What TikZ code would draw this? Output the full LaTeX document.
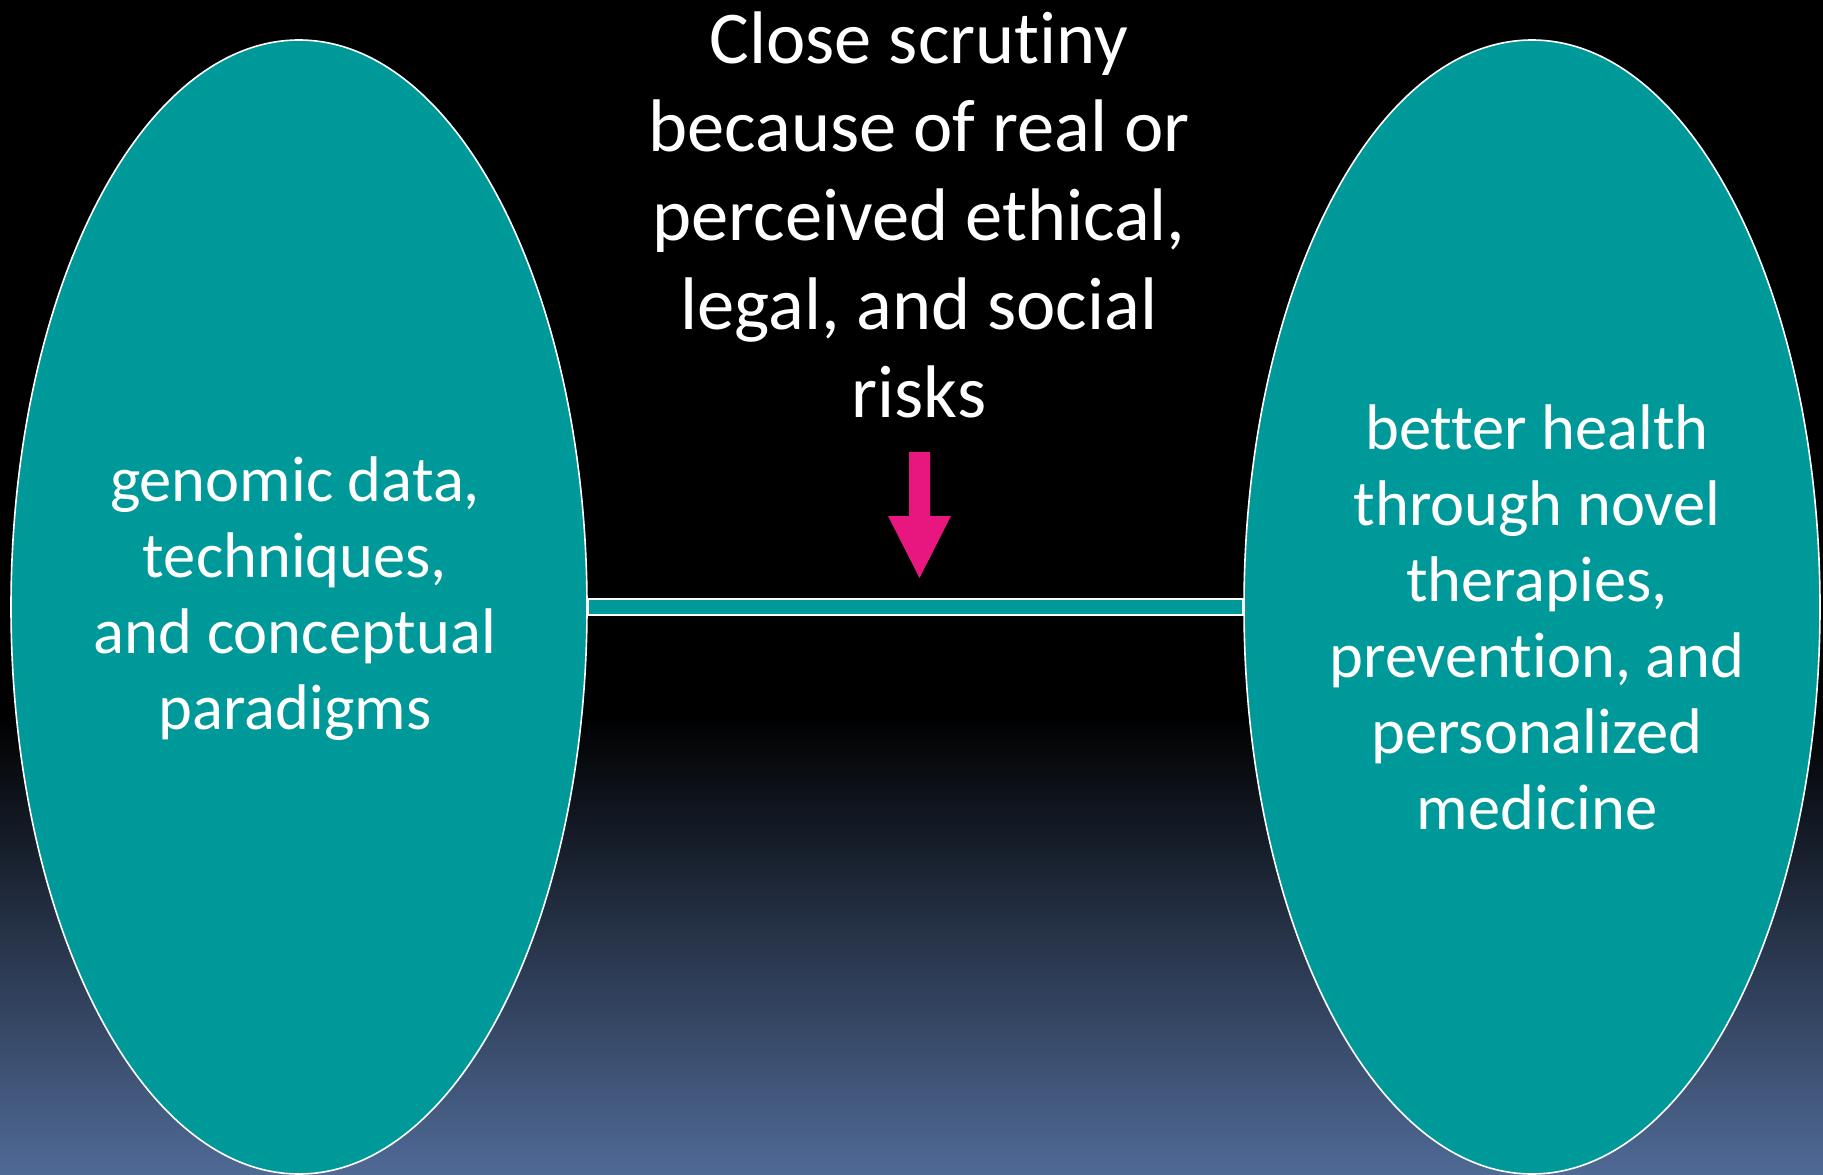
\documentclass[tikz,border=0pt]{standalone}
\usepackage{fontspec}
\setmainfont{Carlito}[Ligatures=NoCommon]
\usetikzlibrary{shapes.geometric}
\definecolor{teal}{RGB}{0,153,153}
\definecolor{pinkarrow}{RGB}{232,23,127}
\definecolor{bgblue}{RGB}{80,106,150}
\tikzset{
  blob/.style={ellipse, draw=white, line width=1.6pt, fill=teal, minimum width=576pt, minimum height=1134pt, inner sep=0pt},
  bigtext/.style={text=white, align=center, inner sep=0pt, font=\fontsize{74.5}{88.6}\selectfont},
  midtext/.style={text=white, align=center, inner sep=0pt, font=\fontsize{64.5}{76}\selectfont},
  barstyle/.style={draw=white, line width=2pt, fill=teal},
  arrowfill/.style={fill=pinkarrow}
}
\begin{document}
\begin{tikzpicture}[x=1pt,y=-1pt]
\useasboundingbox (0,0) rectangle (1823,1175);
\fill[black] (0,0) rectangle (1823,1175);
\shade[top color=black, bottom color=bgblue] (0,715) rectangle (1823,1175);
\node[blob] (L) at (299,607) {};
\node[blob] (R) at (1532,607) {};
\draw[barstyle] ([yshift=-8pt]L.east) rectangle ([yshift=8pt]R.west);
\node[midtext] (lt) at (295,599) {genomic data,\\techniques,\\and conceptual\\paradigms};
\node[midtext] (rt) at (1537,617) {better health\\through novel\\therapies,\\prevention, and\\personalized\\medicine};
\node[bigtext] (top) at (919,215) {Close scrutiny\\because of real or\\perceived ethical,\\legal, and social\\risks};
\coordinate (tip) at (919.5,578);
\fill[arrowfill] (909,452) -- (930,452) -- (930,516) -- (951,516) -- (tip) -- (888,516) -- (909,516) -- cycle;
\end{tikzpicture}
\end{document}
